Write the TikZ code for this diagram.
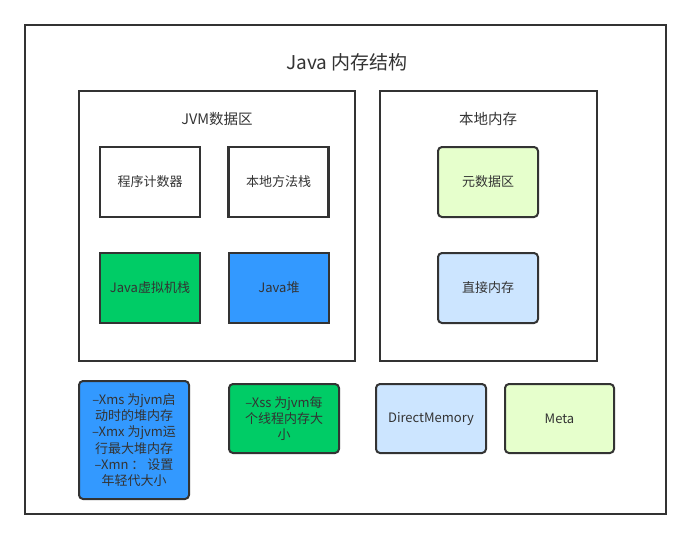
\documentclass[tikz,border=0pt]{standalone}
\usepackage{fontspec}
\newfontfamily\cjk{Noto Sans CJK SC}
\definecolor{edge}{HTML}{333333}
\definecolor{jgreen}{HTML}{00CC66}
\definecolor{jblue}{HTML}{3399FF}
\definecolor{lgreen}{HTML}{E6FFCC}
\definecolor{lblue}{HTML}{CCE5FF}
\begin{document}
\begin{tikzpicture}[x=1pt,y=-1pt,
  frame/.style={draw=edge,line width=2pt},
  sq/.style={draw=edge,line width=2.2pt,minimum width=100pt,minimum height=70pt,inner sep=0pt,font=\cjk\fontsize{13}{16}\selectfont,text=edge},
  rd/.style={sq,rounded corners=4pt,line width=2pt},
  note/.style={rd,align=center,font=\cjk\fontsize{13}{16.2}\selectfont},
  lbl/.style={font=\cjk\fontsize{14.5}{17}\selectfont,text=edge}]
\useasboundingbox (0,0) rectangle (691,539);
\fill[white] (0,0) rectangle (691,539);
\node[frame,minimum width=641pt,minimum height=489pt,inner sep=0pt] (outer) at (345.5,269.5) {};
\node[font=\cjk\fontsize{19}{22}\selectfont,text=edge] (title) at (347,62) {Java 内存结构};
\node[frame,minimum width=276pt,minimum height=270pt,inner sep=0pt] (jvm) at (217,226) {};
\node[lbl] (jvmt) at (217,119) {JVM数据区};
\node[frame,minimum width=217pt,minimum height=270pt,inner sep=0pt] (nat) at (488.5,226) {};
\node[lbl] (natt) at (488,119) {本地内存};
\node[sq] (pc) at (150,182) {程序计数器};
\node[sq] (nms) at (278.5,182) {本地方法栈};
\node[sq,fill=jgreen] (vms) at (150,288) {Java虚拟机栈};
\node[sq,fill=jblue] (heap) at (279,288) {Java堆};
\node[rd,fill=lgreen] (meta) at (488,182) {元数据区};
\node[rd,fill=lblue] (direct) at (488,288) {直接内存};
\node[note,fill=jblue,minimum width=110pt,minimum height=118pt] (n1) at (134,440) {–Xms 为jvm启\\动时的堆内存\\–Xmx 为jvm运\\行最大堆内存\\–Xmn ： 设置\\年轻代大小};
\node[note,fill=jgreen,minimum width=110pt,minimum height=69pt] (n2) at (284,418.5) {–Xss 为jvm每\\个线程内存大\\小};
\node[rd,fill=lblue,minimum width=110pt,minimum height=69pt] (dm) at (431,418.5) {DirectMemory};
\node[rd,fill=lgreen,minimum width=109pt,minimum height=69pt] (mt) at (559.5,418.5) {Meta};
\end{tikzpicture}
\end{document}
